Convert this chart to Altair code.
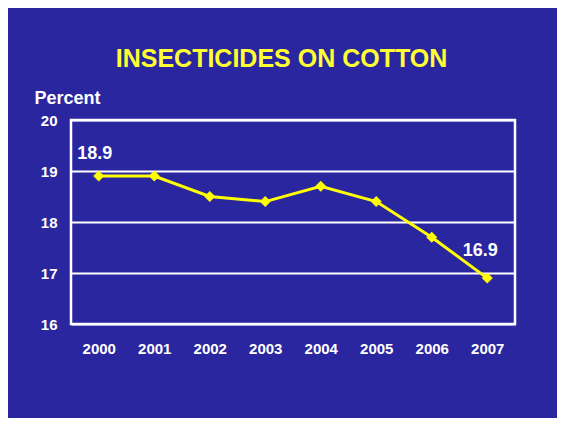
import altair as alt
import pandas as pd

years = ["2000", "2001", "2002", "2003", "2004", "2005", "2006", "2007"]
values = [18.9, 18.9, 18.5, 18.4, 18.7, 18.4, 17.7, 16.9]
y_ticks = [16, 17, 18, 19, 20]
first_label = {"year": "2000", "value": 18.9, "text": "18.9"}
last_label = {"year": "2007", "value": 16.9, "text": "16.9"}

BG = "#2A26A0"
FONT = "Liberation Sans"

df = pd.DataFrame({"year": years, "value": values})
lab1 = pd.DataFrame([first_label])
lab2 = pd.DataFrame([last_label])

x_enc = alt.X(
    "year:O",
    title=None,
    axis=alt.Axis(
        labelAngle=0, labelFont=FONT, labelFontWeight="bold", labelFontSize=15,
        labelColor="white", labelPadding=17, ticks=False, domain=False, grid=False,
    ),
)
y_enc = alt.Y(
    "value:Q",
    title="Percent",
    scale=alt.Scale(domain=[16, 20], nice=False, zero=False),
    axis=alt.Axis(
        values=y_ticks, format="d", labelFont=FONT, labelFontWeight="bold", labelFontSize=15,
        labelColor="white", labelPadding=14, ticks=False, domain=False,
        grid=True, gridColor="white", gridWidth=2, gridOpacity=1,
        titleAngle=0, titleAlign="left", titleBaseline="alphabetic",
        titleX=-37, titleY=-17, titleFont=FONT, titleFontWeight="bold",
        titleFontSize=18, titleColor="white",
    ),
)

line = alt.Chart(df).mark_line(
    color="#FFFF00", strokeWidth=3,
    point=alt.OverlayMarkDef(shape="diamond", size=120, filled=True, color="#FFFF00", opacity=1),
).encode(x=x_enc, y=y_enc)

t1 = alt.Chart(lab1).mark_text(
    font=FONT, fontWeight="bold", fontSize=18, color="white",
    align="center", baseline="alphabetic", dx=-4, dy=-17,
).encode(x="year:O", y="value:Q", text="text:N")

t2 = alt.Chart(lab2).mark_text(
    font=FONT, fontWeight="bold", fontSize=18, color="white",
    align="center", baseline="alphabetic", dx=-7, dy=-22,
).encode(x="year:O", y="value:Q", text="text:N")

chart = alt.layer(line, t1, t2).properties(
    width=444,
    height=204,
    background=BG,
    autosize=alt.AutoSizeParams(type="none"),
    padding={"left": 63, "top": 112, "right": 42, "bottom": 94},
    title=alt.TitleParams(
        "INSECTICIDES ON COTTON", font=FONT, fontWeight="bold", fontSize=25,
        color="#FFFF33", anchor="middle", frame="group", dx=-11.5, dy=26,
        baseline="alphabetic", offset=23,
    ),
).configure_view(stroke="white", strokeWidth=2.5)

chart.save("out.html", embed_options={"renderer": "svg", "actions": False})
